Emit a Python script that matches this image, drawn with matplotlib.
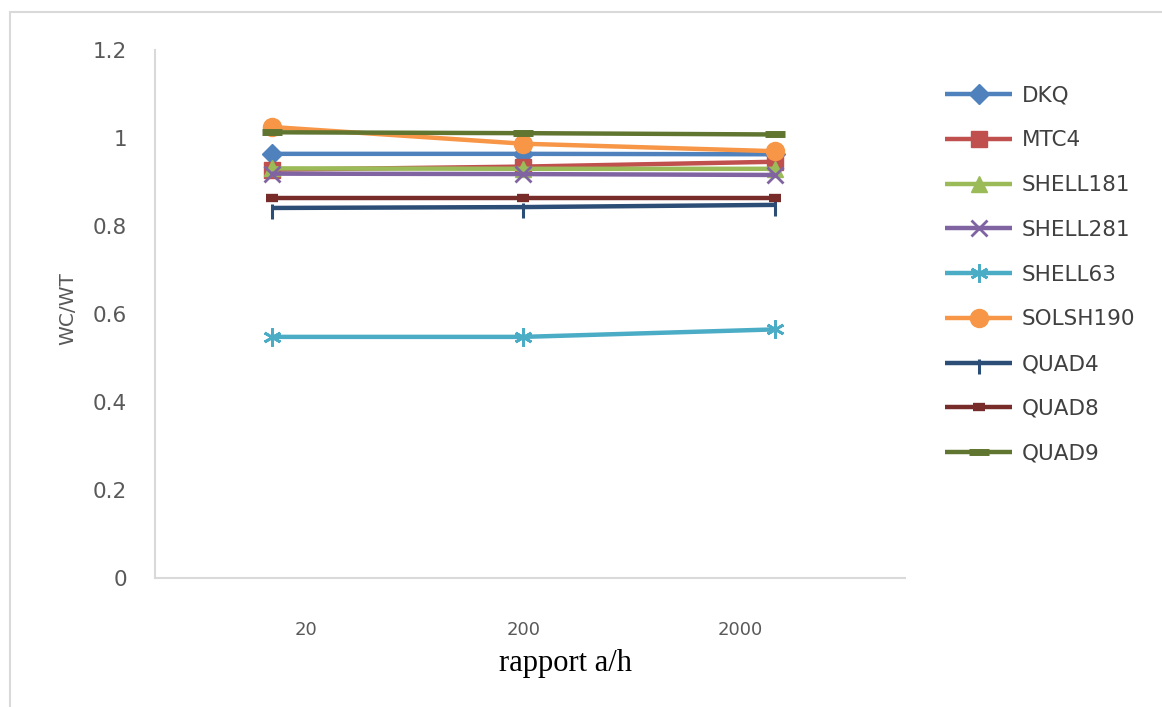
import matplotlib
matplotlib.use("Agg")
import matplotlib.pyplot as plt
from matplotlib.patches import Rectangle
from matplotlib.path import Path

# Ratio categories and WC/WT values per element type
ratios = ["20", "200", "2000"]
dkq = [0.964, 0.964, 0.963]
mtc4 = [0.928, 0.935, 0.946]
shell181 = [0.931, 0.930, 0.930]
shell281 = [0.919, 0.918, 0.916]
shell63 = [0.548, 0.548, 0.565]
solsh190 = [1.025, 0.987, 0.970]
quad4 = [0.841, 0.843, 0.848]
quad8 = [0.864, 0.864, 0.864]
quad9 = [1.013, 1.011, 1.008]

# vertical tick hanging mostly below the line
tick_down = Path([(0, 0.35), (0, -1.0)], [Path.MOVETO, Path.LINETO])

series = [
    ("DKQ", dkq, "#4F81BD", "D", 10, None),
    ("MTC4", mtc4, "#C0504D", "s", 12, None),
    ("SHELL181", shell181, "#9BBB59", "^", 12, None),
    ("SHELL281", shell281, "#8064A2", "x", 11, 2.0),
    ("SHELL63", shell63, "#4BACC6", (6, 2, 0), 13, 2.0),
    ("SOLSH190", solsh190, "#F79646", "o", 13, None),
    ("QUAD4", quad4, "#2C4D75", tick_down, 16, 2.2),
    ("QUAD8", quad8, "#772C2A", "_", 9, 6.0),
    ("QUAD9", quad9, "#5F7530", "_", 14, 5.0),
]

fig = plt.figure(figsize=(11.62, 7.07), dpi=100)
fig.patch.set_facecolor("white")

# outer chart frame
fig.patches.append(Rectangle((10 / 1162, -0.01), 1.2, 1 - 12 / 707 + 0.01,
                             transform=fig.transFigure, fill=False,
                             edgecolor="#D9D9D9", linewidth=1.5, zorder=0))

ax = fig.add_axes([155 / 1162, 1 - 578 / 707, 750 / 1162, 528 / 707])
x = list(range(len(ratios)))
for name, vals, color, marker, ms, mew in series:
    kw = dict(color=color, linewidth=3.2, marker=marker, markersize=ms,
              markerfacecolor=color, markeredgecolor=color, label=name,
              solid_capstyle="butt")
    if mew is not None:
        kw["markeredgewidth"] = mew
    ax.plot(x, vals, **kw)

ax.set_xlim(-0.465, 2.517)
ax.set_ylim(0, 1.2)
ax.set_yticks([0, 0.2, 0.4, 0.6, 0.8, 1.0, 1.2])
ax.set_yticklabels(["0", "0.2", "0.4", "0.6", "0.8", "1", "1.2"],
                   fontsize=15.5, color="#595959", family="DejaVu Sans")
ax.set_xticks([0.134, 1.0, 1.863])
ax.set_xticklabels(ratios, fontsize=13, color="#595959", family="DejaVu Sans")
ax.tick_params(axis="both", length=0)
ax.tick_params(axis="y", pad=20)
ax.tick_params(axis="x", pad=31)

for s in ["top", "right"]:
    ax.spines[s].set_visible(False)
for s in ["left", "bottom"]:
    ax.spines[s].set_color("#D9D9D9")
    ax.spines[s].set_linewidth(1.5)

ax.set_xlabel("rapport a/h", family="Liberation Serif", fontsize=22,
              color="black", va="center")
ax.xaxis.set_label_coords(0.547, -86 / 528)
fig.text(68 / 1162, 1 - 309 / 707, "WC/WT", rotation=90, ha="center",
         va="center", fontsize=14.5, color="#595959", family="DejaVu Sans")

leg = ax.legend(loc="upper left", bbox_to_anchor=(936 / 1162, 1 - 77 / 707),
                bbox_transform=fig.transFigure, frameon=False,
                prop={"family": "DejaVu Sans", "size": 15.5},
                handlelength=3.15, handletextpad=0.42, labelspacing=1.15,
                borderaxespad=0)
for t in leg.get_texts():
    t.set_color("#404040")

fig.savefig("out.png", dpi=100)
